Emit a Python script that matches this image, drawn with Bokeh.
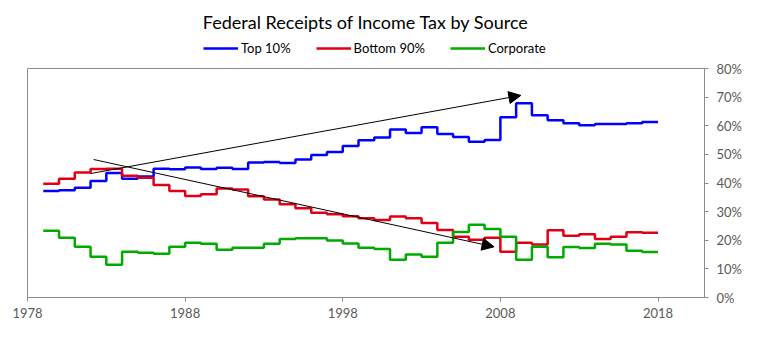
from bokeh.plotting import figure
from bokeh.layouts import column
from bokeh.models import (Range1d, FixedTicker, PrintfTickFormatter, Legend, LegendItem,
                          Arrow, NormalHead)
from bokeh.embed import file_html
from bokeh.resources import INLINE

# ---- data ----
years = list(range(1979, 2018))
top10 = [37.2, 37.5, 38.3, 40.7, 43.5, 41.5, 42.3, 45.0, 44.8, 45.4,
         44.9, 45.3, 44.9, 47.2, 47.3, 47.0, 48.2, 49.8, 50.8, 52.9,
         54.9, 55.9, 58.7, 57.5, 59.5, 57.1, 56.1, 54.4, 55.0, 63.0,
         67.9, 63.7, 61.9, 60.9, 60.2, 60.6, 60.6, 60.9, 61.3]
bottom90 = [39.7, 41.5, 43.7, 44.9, 45.0, 42.5, 41.8, 39.3, 37.2, 35.5,
            36.1, 38.1, 37.7, 35.4, 34.2, 32.6, 31.2, 29.6, 29.1, 28.4,
            27.7, 27.1, 28.3, 27.7, 26.0, 23.6, 21.2, 20.2, 20.9, 16.0,
            19.1, 18.5, 23.5, 21.6, 22.1, 20.4, 21.2, 22.8, 22.6]
corporate = [23.3, 20.9, 17.7, 14.2, 11.4, 16.0, 15.6, 15.3, 17.7, 19.1,
             18.8, 16.7, 17.4, 17.4, 18.8, 20.4, 20.7, 20.7, 19.9, 18.9,
             17.4, 16.9, 13.2, 15.0, 14.2, 19.1, 22.9, 25.4, 23.9, 21.2,
             13.2, 17.7, 14.1, 17.6, 17.3, 18.8, 18.5, 16.3, 15.9]
series_names = ["Top 10%", "Bottom 90%", "Corporate"]
series_colors = ["#0000ff", "#e00014", "#00aa00"]
x_ticks = [1978, 1988, 1998, 2008, 2018]
y_ticks = [0, 10, 20, 30, 40, 50, 60, 70, 80]
# trend arrows: (x_start, y_start, x_end, y_end)
arrow_up = (1982.0, 43.3, 2009.3, 70.6)
arrow_down = (1982.2, 48.2, 2007.6, 17.7)

FONT = "Lato"
GRAY = "#8c8c8c"
LABEL = "#595959"
all_series = [top10, bottom90, corporate]

# ---------- header figure: title + legend ----------
head = figure(width=765, height=58, output_backend="svg", toolbar_location=None,
              x_range=Range1d(0, 1), y_range=Range1d(0, 1),
              x_axis_location=None, y_axis_location=None,
              min_border_left=27, min_border_right=61, min_border_top=32, min_border_bottom=0)
head.outline_line_color = None
head.xgrid.visible = False
head.ygrid.visible = False
head.title.text = "Federal Receipts of Income Tax by Source"
head.title.align = "center"
head.title.text_font = FONT
head.title.text_font_style = "normal"
head.title.text_font_size = "18px"
head.title.text_color = "#000000"
head.title.standoff = 0

# legend carriers (same data; fall outside the header's ranges so only the legend shows)
head_renderers = []
for vals, color in zip(all_series, series_colors):
    head_renderers.append(head.line(years, vals, line_color=color, line_width=2.5))

legend = Legend(items=[LegendItem(label=n, renderers=[r]) for n, r in zip(series_names, head_renderers)],
                orientation="horizontal", location=(176, 2))
legend.border_line_color = None
legend.background_fill_alpha = 0
legend.label_text_font = FONT
legend.label_text_font_size = "13px"
legend.label_text_color = "#000000"
legend.glyph_width = 35
legend.glyph_height = 14
legend.label_standoff = 3
legend.spacing = 25
legend.padding = 2
legend.margin = 0
head.add_layout(legend, "center")

# ---------- main figure ----------
p = figure(width=765, height=289, output_backend="svg", toolbar_location=None,
           x_range=Range1d(1978, 2020.95), y_range=Range1d(0, 80),
           y_axis_location="right",
           min_border_left=27, min_border_right=61, min_border_top=10, min_border_bottom=50)
p.background_fill_color = "white"
p.border_fill_color = "white"
p.outline_line_color = GRAY
p.xgrid.visible = False
p.ygrid.visible = False

for ax in (p.xaxis[0], p.yaxis[0]):
    ax.axis_line_color = GRAY
    ax.major_tick_line_color = GRAY
    ax.minor_tick_line_color = None
    ax.major_tick_in = 0
    ax.major_tick_out = 4
    ax.major_label_text_font = FONT
    ax.major_label_text_font_size = "13px"
    ax.major_label_text_color = LABEL

p.xaxis.ticker = FixedTicker(ticks=x_ticks)
p.xaxis.formatter = PrintfTickFormatter(format="%d")
p.xaxis.major_label_standoff = 6
p.yaxis.ticker = FixedTicker(ticks=y_ticks)
p.yaxis.formatter = PrintfTickFormatter(format="%d%%")
p.yaxis.major_label_standoff = 8

for vals, color in zip(all_series, series_colors):
    xs = years + [years[-1] + 1]
    ys = vals + [vals[-1]]
    p.step(xs, ys, mode="after", line_color=color, line_width=2.5)

for (xs0, ys0, xe, ye) in (arrow_up, arrow_down):
    p.add_layout(Arrow(end=NormalHead(size=12, fill_color="black", line_color="black"),
                       x_start=xs0, y_start=ys0, x_end=xe, y_end=ye,
                       line_color="black", line_width=1))

layout = column(head, p, spacing=0)
open("out.html", "w").write(file_html(layout, INLINE))
